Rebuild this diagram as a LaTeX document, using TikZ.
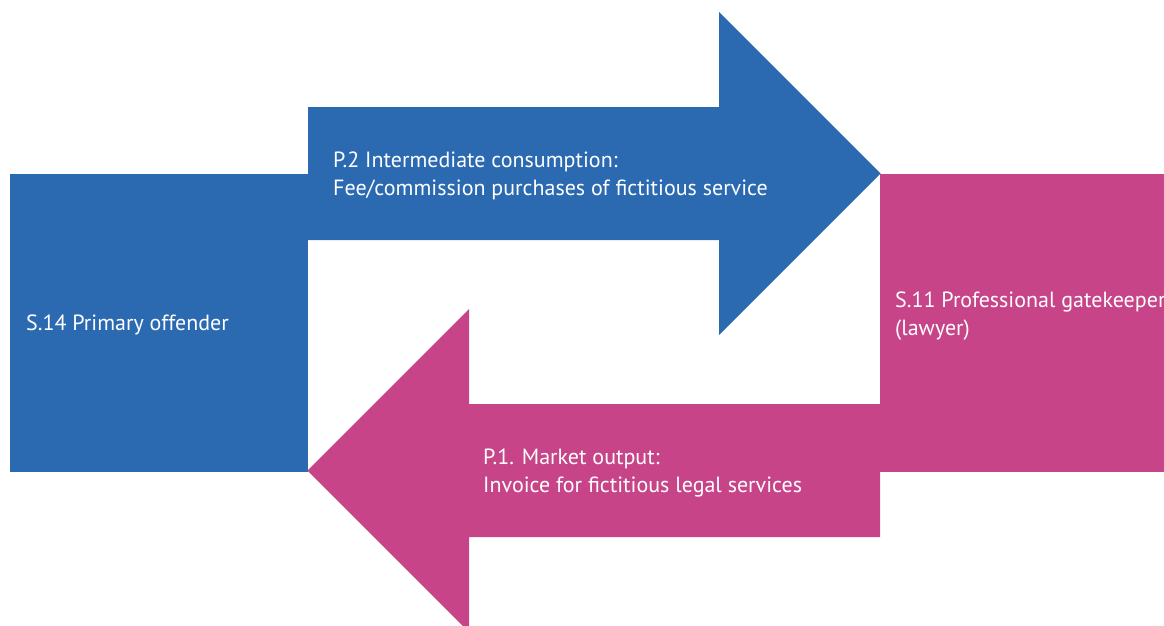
\documentclass[tikz,border=0pt]{standalone}
\usepackage{fontspec}
\setmainfont{PT Sans}
\definecolor{flowblue}{RGB}{43,106,177}
\definecolor{flowpink}{RGB}{199,68,137}

\begin{document}
\begin{tikzpicture}[x=1pt, y=-1pt,
		flowtext/.style={anchor=base west, align=left, inner sep=0pt, text=white, font=\fontsize{22}{28}\selectfont}]
				\useasboundingbox (0,0) rectangle (1164,625);
				% sector boxes
				\fill[flowblue] (10,174) rectangle (308,472);
				\fill[flowpink] (880,174) rectangle (1170,472);
				% flow arrows
				\fill[flowblue] (308,107) -- (719,107) -- (719,12) -- (880.5,173.5) -- (719,335) -- (719,240) -- (308,240) -- cycle;
				\fill[flowpink] (880,404) -- (469,404) -- (469,309) -- (307.5,470.5) -- (469,632) -- (469,537) -- (880,537) -- cycle;
				% labels (base = last line)
				\node[flowtext] (offender) at (26,330) {S.14 Primary offender};
				\node[flowtext] (gatekeeper) at (895,335) {S.11 Professional gatekeeper\\(lawyer)};
				\node[flowtext] (consumption) at (333,195) {P.2 Intermediate consumption:\\Fee/commission purchases of fictitious service};
				\node[flowtext] (output) at (483,492) {P.1. Market output:\\Invoice for fictitious legal services};
\end{tikzpicture}
\end{document}
